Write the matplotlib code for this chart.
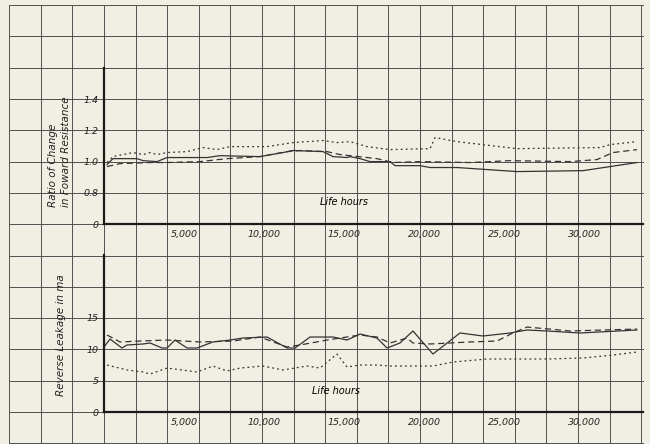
import numpy as np
import matplotlib.pyplot as plt

# --- data ------------------------------------------------------------------
# upper panel: ratio of change in forward resistance vs life hours
fwd_solid_h = [190, 560, 2060, 2440, 3310, 3940, 6440, 7250, 9750, 11190, 11810,
               13690, 14310, 15190, 15380, 16000, 16630, 17880, 18190, 19750,
               20380, 22060, 25810, 29940, 33310]
fwd_solid = [0.981, 1.019, 1.019, 1.006, 1.0, 1.026, 1.026, 1.038, 1.032, 1.058,
             1.071, 1.064, 1.032, 1.026, 1.032, 1.019, 1.0, 1.0, 0.974, 0.974,
             0.962, 0.962, 0.936, 0.942, 0.994]

fwd_dash_h = [190, 1000, 2880, 3940, 6000, 7690, 9750, 11440, 12250, 13940, 14750,
              17060, 18060, 19750, 22880, 25380, 29130, 30810, 31810, 33310]
fwd_dash = [0.968, 0.987, 0.994, 0.994, 1.0, 1.019, 1.032, 1.064, 1.071, 1.064,
            1.045, 1.019, 0.994, 1.0, 0.994, 1.006, 1.0, 1.013, 1.058, 1.077]

fwd_dot_h = [190, 560, 1810, 2440, 2880, 3310, 3940, 5190, 6190, 7060, 7880, 10190,
             11810, 13690, 14560, 15380, 16440, 17880, 20380, 20690, 22060, 25810,
             31000, 31630, 33310]
fwd_dot = [0.994, 1.032, 1.058, 1.045, 1.058, 1.045, 1.058, 1.064, 1.090, 1.077,
           1.096, 1.096, 1.122, 1.135, 1.122, 1.128, 1.096, 1.077, 1.083, 1.154,
           1.128, 1.083, 1.090, 1.109, 1.128]

fwd_ticks = [0, 0.8, 1.0, 1.2, 1.4]
fwd_labels = ['0', '0.8', '1.0', '1.2', '1.4']

# lower panel: reverse leakage in ma vs life hours
rev_solid_h = [0, 375, 1125, 1440, 2440, 2880, 3630, 3940, 4440, 5190, 5810, 6810,
               7880, 8690, 10190, 11440, 11940, 12880, 14310, 15190, 16000, 17060,
               17690, 18500, 19310, 20560, 22250, 23690, 25380, 26440, 27690,
               29750, 33310]
rev_solid = [10.35, 11.62, 10.19, 10.67, 10.83, 10.99, 10.19, 10.19, 11.46, 10.19,
             10.19, 11.15, 11.46, 11.78, 11.94, 10.19, 10.19, 11.94, 11.94, 11.46,
             12.42, 11.78, 10.19, 10.99, 12.90, 9.23, 12.58, 12.10, 12.58, 13.06,
             12.90, 12.58, 13.06]

rev_dash_h = [190, 1000, 2250, 3940, 6000, 8060, 9750, 11440, 12250, 13940, 16000,
              17060, 17880, 18940, 19310, 20380, 22880, 24560, 25560, 26440,
              29130, 33310]
rev_dash = [12.26, 11.15, 11.30, 11.46, 11.15, 11.30, 11.94, 10.35, 10.67, 11.46,
            12.26, 11.94, 10.99, 11.78, 10.99, 10.83, 11.15, 11.30, 12.58, 13.53,
            12.90, 13.21]

rev_dot_h = [190, 1440, 2440, 2880, 3940, 5810, 6810, 7690, 8500, 9940, 11190,
             12690, 13500, 14560, 15190, 16000, 17060, 17880, 20560, 21810, 23940,
             27690, 29940, 31810, 33310]
rev_dot = [7.48, 6.69, 6.37, 6.05, 7.00, 6.37, 7.32, 6.53, 7.00, 7.32, 6.69, 7.32,
           7.00, 9.23, 7.16, 7.48, 7.48, 7.32, 7.32, 7.96, 8.44, 8.44, 8.60, 9.07,
           9.55]

rev_ticks = [0, 5, 10, 15]
hour_ticks = [5000, 10000, 15000, 20000, 25000, 30000]
hour_labels = ['5,000', '10,000', '15,000', '20,000', '25,000', '30,000']

# --- figure ---------------------------------------------------------------
W, H = 650, 444
paper = '#f1efe3'
ink = '#333333'
fig = plt.figure(figsize=(6.5, 4.44), dpi=100, facecolor=paper)

# graph paper in pixel space
bg = fig.add_axes([0, 0, 1, 1])
bg.set_xlim(0, W)
bg.set_ylim(H, 0)
bg.axis('off')
bg.set_facecolor(paper)
gx = 104 + 31.6 * np.arange(-3, 18)
gy = 412 - 31.3 * np.arange(-1, 14)
for x in gx:
    bg.plot([x, x], [5, H], color='#505050', lw=0.7)
for y in gy:
    if 4 <= y <= H:
        bg.plot([10, 643], [y, y], color='#505050', lw=0.7)


def fy(r):
    # ratio scale on the paper: 0.8 -> 1 grid, 1.0 -> 2 grids, etc.
    r = np.asarray(r, dtype=float)
    return np.where(r <= 0, 0, (r - 0.6) / 0.2)


def panel(top, bottom, ylim):
    ax = fig.add_axes([104 / W, (H - bottom) / H, (643 - 104) / W, (bottom - top) / H])
    ax.patch.set_alpha(0)
    ax.set_xlim(0, (643 - 104) / 16 * 1000)
    ax.set_ylim(*ylim)
    for s in ['top', 'right']:
        ax.spines[s].set_visible(False)
    for s in ['left', 'bottom']:
        ax.spines[s].set_linewidth(1.6)
        ax.spines[s].set_color('#1a1a1a')
    ax.tick_params(length=0, pad=4, labelsize=6.8, colors='#222222')
    ax.set_xticks(hour_ticks)
    ax.set_xticklabels(hour_labels, fontstyle='italic')
    return ax


lw = 0.9
ax1 = panel(68, 224, (0, 5))
ax1.plot(fwd_solid_h, fy(fwd_solid), color=ink, lw=lw)
ax1.plot(fwd_dash_h, fy(fwd_dash), color=ink, lw=lw, ls=(0, (5, 3)))
ax1.plot(fwd_dot_h, fy(fwd_dot), color=ink, lw=lw, ls=(0, (1.5, 2.5)))
ax1.set_yticks(fy(fwd_ticks))
ax1.set_yticklabels(fwd_labels, fontstyle='italic')
ax1.text(15000, 0.7, 'Life hours', fontsize=7, fontstyle='italic', ha='center', va='center')

ax2 = panel(255, 412, (0, 25))
ax2.plot(rev_solid_h, rev_solid, color=ink, lw=lw)
ax2.plot(rev_dash_h, rev_dash, color=ink, lw=lw, ls=(0, (5, 3)))
ax2.plot(rev_dot_h, rev_dot, color=ink, lw=lw, ls=(0, (1.5, 2.5)))
ax2.set_yticks(rev_ticks)
ax2.set_yticklabels([str(t) for t in rev_ticks], fontstyle='italic')
ax2.text(14500, 3.3, 'Life hours', fontsize=7, fontstyle='italic', ha='center', va='center')

# axis titles
lab = dict(fontsize=7.5, fontstyle='italic', rotation=90, color='#222222',
           rotation_mode='anchor', ha='left', va='center')
bg.text(53, 207, 'Ratio of Change', **lab)
bg.text(66, 207, 'in Foward Resistance', **lab)
bg.text(61, 396, 'Reverse Leakage in ma', **lab)

fig.savefig('out.png', dpi=100, facecolor=paper)
